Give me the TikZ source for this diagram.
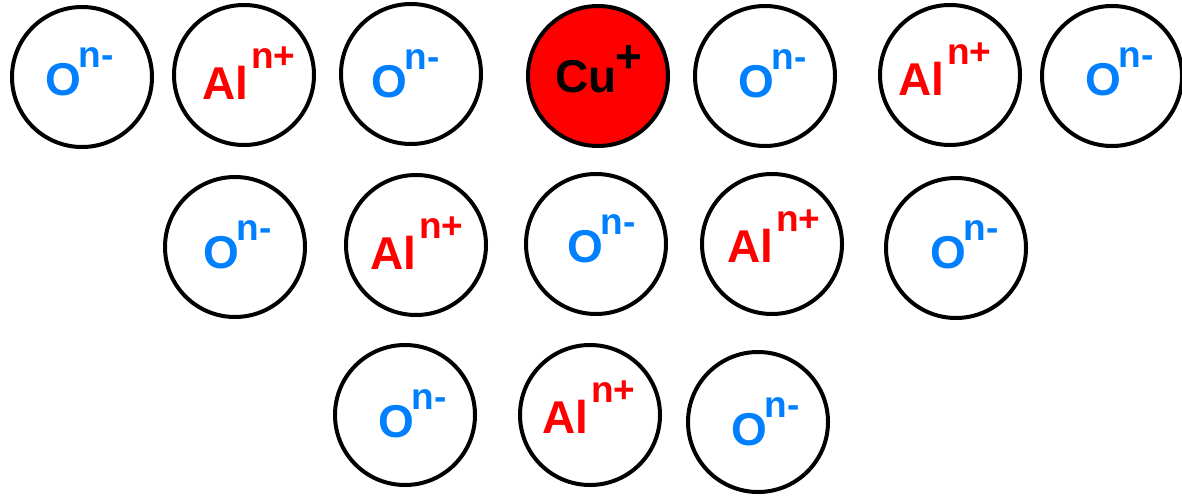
\documentclass[tikz,border=0pt]{standalone}
\usepackage{fontspec}
\setmainfont{Liberation Sans}
\definecolor{oblue}{RGB}{0,128,255}
\definecolor{alred}{RGB}{255,0,0}
\newcommand\supfont{\fontsize{37}{37}\selectfont}
\newcommand\Oion{\textcolor{oblue}{O\kern-2pt\raisebox{28pt}{\supfont n-}}}
\newcommand\Alion{\textcolor{alred}{Al\kern3pt\raisebox{31pt}{\supfont n+}}}
\newcommand\Cuion{\textcolor{black}{Cu\kern-1pt\raisebox{20pt}{+}}}
\begin{document}
\begin{tikzpicture}[x=1pt,y=-1pt,
  ion/.style={circle,draw=black,line width=4pt,minimum size=140pt,inner sep=0pt,fill=white},
  cu/.style={ion,fill=alred},
  lab/.style={anchor=base west,inner sep=0pt,font=\fontsize{46}{46}\selectfont\bfseries}]
\useasboundingbox (0,0) rectangle (1182,495);
% row 1
\node[ion] (r1a) at (82,77) {};
\node[ion] (r1b) at (244,75) {};
\node[ion] (r1c) at (411,74) {};
\node[cu]  (r1d) at (598,76) {};
\node[ion] (r1e) at (765,76) {};
\node[ion] (r1f) at (950,75) {};
\node[ion] (r1g) at (1112,76) {};
% row 2
\node[ion] (r2a) at (235,247) {};
\node[ion] (r2b) at (416,245) {};
\node[ion] (r2c) at (596,244) {};
\node[ion] (r2d) at (772,244) {};
\node[ion] (r2e) at (956,248) {};
% row 3
\node[ion] (r3a) at (405,415) {};
\node[ion] (r3b) at (590,415) {};
\node[ion] (r3c) at (758,422) {};
% labels
\node[lab] (t1a) at (45,95) {\Oion};
\node[lab] (t1b) at (202,99) {\Alion};
\node[lab] (t1c) at (371,97) {\Oion};
\node[lab] (t1d) at (555,92) {\Cuion};
\node[lab] (t1e) at (738,97) {\Oion};
\node[lab] (t1f) at (898,95) {\Alion};
\node[lab] (t1g) at (1085,95) {\Oion};
\node[lab] (t2a) at (203,268) {\Oion};
\node[lab] (t2b) at (370,269) {\Alion};
\node[lab] (t2c) at (567,262) {\Oion};
\node[lab] (t2d) at (727,262) {\Alion};
\node[lab] (t2e) at (930,268) {\Oion};
\node[lab] (t3a) at (378,437) {\Oion};
\node[lab] (t3b) at (542,433) {\Alion};
\node[lab] (t3c) at (731,445) {\Oion};
\end{tikzpicture}
\end{document}
